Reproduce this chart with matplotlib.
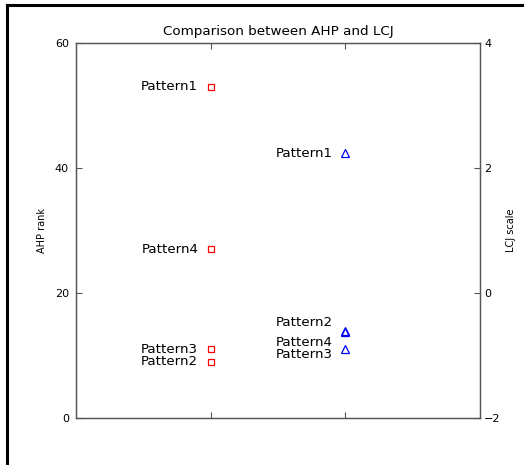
import numpy as np
import matplotlib
matplotlib.use('Agg')
import matplotlib.pyplot as plt
from matplotlib.lines import Line2D

plt.rcParams['font.family'] = ['DejaVu Sans']

# AHP rank (left axis), drawn at x = 1
ahp_labels = ['Pattern1', 'Pattern4', 'Pattern3', 'Pattern2']
ahp_rank = [53, 27, 11, 9]

# LCJ scale (right axis), drawn at x = 2
lcj_labels = ['Pattern1', 'Pattern2', 'Pattern4', 'Pattern3']
lcj_scale = [2.24, -0.60, -0.63, -0.90]
# vertical label nudges (points) so overlapping labels stay readable
lcj_dy = [0, 6, -7, -3.5]

fig = plt.figure(figsize=(5.24, 4.65), dpi=100)
ax = fig.add_axes([0.145, 0.101, 0.771, 0.8065])
ax2 = ax.twinx()

spine_col = '#555555'
for a in (ax, ax2):
    for s in a.spines.values():
        s.set_color(spine_col)
        s.set_linewidth(0.9)
    a.tick_params(direction='in', length=4, width=0.8, color=spine_col,
                  labelsize=8)
ax.tick_params(axis='y', pad=5)
ax2.tick_params(axis='y', pad=3)

ax.plot(np.ones(len(ahp_rank)), ahp_rank, 's', mfc='none', mec='red',
        ms=5, mew=0.9)
for lab, v in zip(ahp_labels, ahp_rank):
    ax.annotate(lab, (1, v), xytext=(-9, 0), textcoords='offset points',
                ha='right', va='center', fontsize=9.6)

ax2.plot(2 * np.ones(len(lcj_scale)), lcj_scale, '^', mfc='none', mec='blue',
         ms=6, mew=0.9)
for lab, v, dy in zip(lcj_labels, lcj_scale, lcj_dy):
    ax2.annotate(lab, (2, v), xytext=(-9, dy), textcoords='offset points',
                 ha='right', va='center', fontsize=9.6)

ax.set_xlim(0, 3)
ax.set_xticks([1, 2])
ax.set_xticklabels([])
ax.tick_params(axis='x', top=True, bottom=True)
ax.set_ylim(0, 60)
ax.set_yticks([0, 20, 40, 60])
ax2.set_ylim(-2, 4)
ax2.set_yticks([-2, 0, 2, 4])
ax2.set_yticklabels(['\u22122', '0', '2', '4'])

ax.set_ylabel('AHP rank', fontsize=7, labelpad=6)
ax2.set_ylabel('LCJ scale', fontsize=7, labelpad=4)
ax.set_title('Comparison between AHP and LCJ', fontsize=9.7, pad=6)

# partial black frame around the figure (top and left edges)
fig.add_artist(Line2D([0.014, 1.0], [0.989, 0.989], color='black', lw=2.2,
                      transform=fig.transFigure))
fig.add_artist(Line2D([0.014, 0.014], [0.0, 0.989], color='black', lw=2.2,
                      transform=fig.transFigure))

fig.savefig('out.png', dpi=100)
